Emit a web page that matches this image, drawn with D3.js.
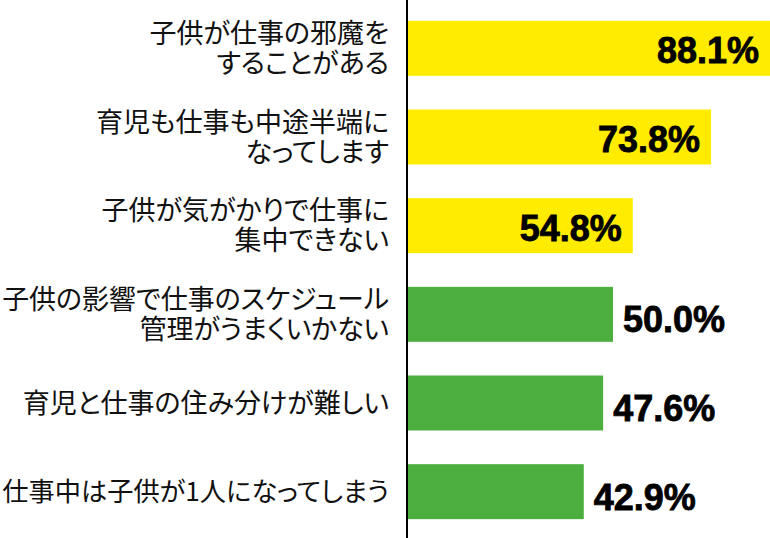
<!DOCTYPE html>
<html>
<head>
<meta charset="utf-8">
<script src="https://cdn.jsdelivr.net/npm/d3@7"></script>
<style>
  html, body { margin: 0; padding: 0; background: #fff; }
  svg { display: block; }
  text.cat { font-feature-settings: "palt" 1; }
</style>
</head>
<body>
<svg id="chart" width="770" height="538"></svg>
<script>
const categories = [
  ["子供が仕事の邪魔を", "することがある"],
  ["育児も仕事も中途半端に", "なってします"],
  ["子供が気がかりで仕事に", "集中できない"],
  ["子供の影響で仕事のスケジュール", "管理がうまくいかない"],
  ["育児と仕事の住み分けが難しい"],
  ["仕事中は子供が1人になってしまう"]
];
const values = [88.1, 73.8, 54.8, 50.0, 47.6, 42.9];
const groups = ["top", "top", "top", "other", "other", "other"];
const valueLabels = ["88.1%", "73.8%", "54.8%", "50.0%", "47.6%", "42.9%"];

const colors = { top: "#FFEC00", other: "#4BAE3E" };

const svg = d3.select("#chart");
const x0 = 407;
const x = d3.scaleLinear().domain([0, d3.max(values)]).range([x0, 770]);
const y = d3.scaleBand().domain(d3.range(values.length)).range([4, 536]).paddingInner(0.38).paddingOuter(0.19);

const idx = d3.range(values.length);

svg.selectAll("rect.bar").data(idx).join("rect")
  .attr("class", "bar")
  .attr("x", x(0))
  .attr("y", i => y(i))
  .attr("width", i => x(values[i]) - x(0))
  .attr("height", y.bandwidth())
  .attr("fill", i => colors[groups[i]]);

// axis line
svg.append("line")
  .attr("x1", x0).attr("x2", x0)
  .attr("y1", 0).attr("y2", 538)
  .attr("stroke", "#000").attr("stroke-width", 2);

// category labels
const lineGap = 30;
const labelRight = 389;
const lab = svg.selectAll("text.cat").data(idx).join("text")
  .attr("class", "cat")
  .attr("text-anchor", "end")
  .attr("font-family", "'Noto Sans CJK JP', 'Noto Sans', sans-serif")
  .attr("font-size", 27)
  .attr("fill", "#111");
lab.each(function(i) {
  const lines = categories[i];
  const cy = y(i) + y.bandwidth() / 2;
  const n = lines.length;
  d3.select(this).selectAll("tspan").data(lines).join("tspan")
    .attr("x", labelRight)
    .attr("y", (d, k) => cy + (k - (n - 1) / 2) * lineGap)
    .attr("dy", "0.36em")
    .text(d => d);
});
// keep every label inside the left edge
lab.each(function() {
  const t = d3.select(this);
  const w = this.getBBox().width;
  if (w > labelRight - 2) t.attr("font-size", 27 * (labelRight - 2) / w);
});

// value labels
svg.selectAll("text.val").data(idx).join("text")
  .attr("class", "val")
  .attr("font-family", "'Liberation Sans Narrow', 'Arial Narrow', sans-serif")
  .attr("font-weight", "bold")
  .attr("font-size", 36)
  .attr("fill", "#000")
  .attr("stroke", "#000")
  .attr("stroke-width", 0.8)
  .attr("text-anchor", i => groups[i] === "top" ? "end" : "start")
  .attr("x", i => groups[i] === "top" ? x(values[i]) - 11 : x(values[i]) + 10)
  .attr("y", i => y(i) + y.bandwidth() / 2 + (groups[i] === "top" ? 2 : 5))
  .attr("dy", "0.36em")
  .text(i => valueLabels[i]);
</script>
</body>
</html>
